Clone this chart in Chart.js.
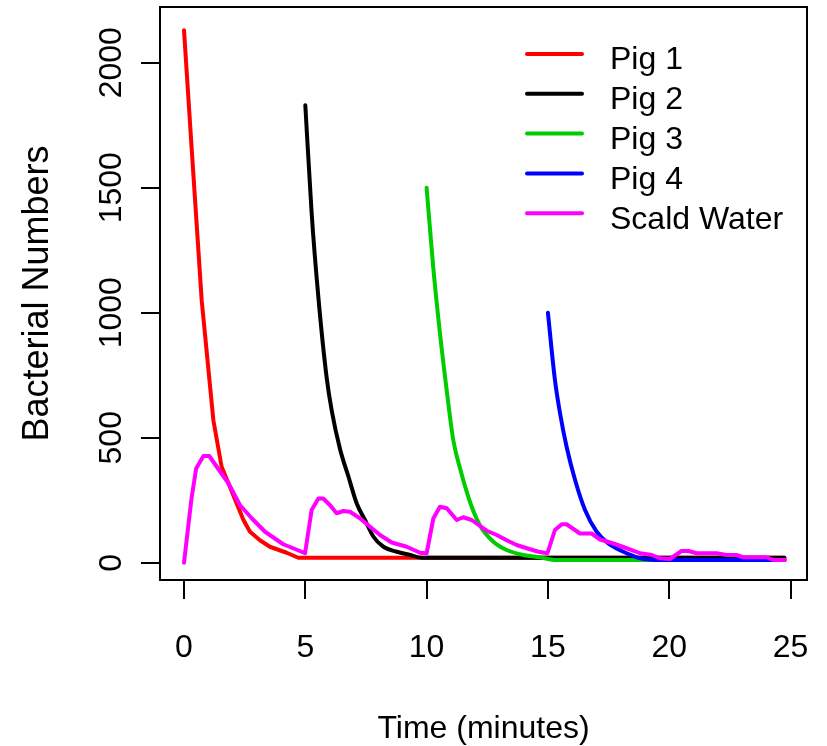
<!DOCTYPE html>
<html>
<head>
<meta charset="utf-8">
<script src="https://cdn.jsdelivr.net/npm/chart.js@4/dist/chart.umd.min.js"></script>
<style>
  html, body { margin: 0; padding: 0; background: #fff; }
  canvas { display: block; }
</style>
</head>
<body>
<canvas id="chart" width="827" height="746"></canvas>
<script>
// values (time in minutes, bacterial numbers)
const pig1Time  = [0, 0.32, 0.73, 1.21, 1.55, 1.83, 2.17, 2.45, 2.72, 3.13, 3.54, 4.23, 4.71, 24.75];
const pig1Count = [2130, 1650, 1048, 570, 384, 318, 237, 171, 124, 90, 64, 40, 20, 20];

const pig2Time  = [5, 5.26, 5.54, 5.88, 6.09, 6.43, 6.78, 7.12, 7.46, 7.81, 8.22, 8.77, 9.32, 9.8, 24.75];
const pig2Count = [1830, 1400, 1060, 740, 608, 455, 344, 237, 171, 104, 64, 44, 31, 20, 20];

const pig3Time  = [10, 10.27, 10.55, 10.87, 11.1, 11.38, 11.79, 12.2, 12.75, 13.3, 13.99, 14.67, 15.36, 24.75];
const pig3Count = [1500, 1185, 918, 657, 490, 377, 243, 149, 84, 51, 31, 22, 11, 11];

const pig4Time  = [15, 15.29, 15.5, 15.77, 16.12, 16.53, 17.01, 17.49, 18.11, 18.8, 19.62, 24.75];
const pig4Count = [1000, 731, 598, 464, 331, 211, 124, 77, 44, 18, 11, 11];

const scaldTime  = [0, 0.3, 0.5, 0.8, 1.04, 1.4, 1.83, 2.31, 2.79, 3.34, 4.09, 4.5, 4.99,
                    5.26, 5.54, 5.74, 6.02, 6.29, 6.57, 6.84, 7.25, 7.67, 8.08, 8.56, 9.18, 9.73, 10.0,
                    10.28, 10.55, 10.83, 11.24, 11.51, 11.86, 12.1, 12.48, 12.89, 13.3, 13.71, 14.13, 14.61, 14.98,
                    15.29, 15.57, 15.77, 16.32, 16.8, 17.15, 17.7, 18.25, 18.8, 19.28, 19.62, 20.03,
                    20.51, 20.79, 21.13, 21.95, 22.36, 22.77, 23.05, 24.02, 24.29, 24.77];
const scaldCount = [0, 251, 377, 427, 427, 377, 318, 230, 178, 124, 74, 58, 38,
                    211, 257, 257, 230, 198, 207, 204, 178, 144, 111, 81, 64, 40, 38,
                    178, 224, 218, 171, 182, 171, 154, 128, 111, 90, 71, 58, 44, 38,
                    131, 154, 154, 117, 117, 93, 77, 58, 38, 31, 18, 15,
                    47, 47, 38, 38, 31, 31, 22, 22, 11, 11];

const seriesNames  = ['Pig 1', 'Pig 2', 'Pig 3', 'Pig 4', 'Scald Water'];
const seriesColors = ['#FF0000', '#000000', '#00CD00', '#0000FF', '#FF00FF'];
const smoothSeries = [false, true, true, true, false];

const xTicks = [0, 5, 10, 15, 20, 25];
const yTicks = [0, 500, 1000, 1500, 2000];

const FONT = '"Liberation Sans", Arial, sans-serif';

function toPoints(xs, ys) {
    return xs.map((x, i) => ({ x: x, y: ys[i] }));
}

const allSeries = [
    toPoints(pig1Time, pig1Count),
    toPoints(pig2Time, pig2Count),
    toPoints(pig3Time, pig3Count),
    toPoints(pig4Time, pig4Count),
    toPoints(scaldTime, scaldCount)
];

// R style box, tick labels, axis titles and legend
const rDecor = {
    id: 'rDecor',
    afterDraw(chart) {
        const ctx = chart.ctx;
        const a = chart.chartArea;
        const xs = chart.scales.x, ys = chart.scales.y;
        ctx.save();
        ctx.strokeStyle = '#000';
        ctx.lineWidth = 2;
        ctx.strokeRect(a.left, a.top, a.right - a.left, a.bottom - a.top);

        ctx.fillStyle = '#000';
        ctx.font = '32px ' + FONT;
        ctx.textAlign = 'center';
        ctx.textBaseline = 'alphabetic';
        xTicks.forEach(v => ctx.fillText(String(v), xs.getPixelForValue(v), 657));
        yTicks.forEach(v => {
            ctx.save();
            ctx.translate(121, ys.getPixelForValue(v));
            ctx.rotate(-Math.PI / 2);
            ctx.fillText(String(v), 0, 0);
            ctx.restore();
        });

        ctx.font = '32px ' + FONT;
        ctx.fillText('Time (minutes)', (a.left + a.right) / 2, 738);
        ctx.font = '36px ' + FONT;
        ctx.save();
        ctx.translate(48, (a.top + a.bottom) / 2);
        ctx.rotate(-Math.PI / 2);
        ctx.fillText('Bacterial Numbers', 0, 0);
        ctx.restore();

        // legend
        ctx.font = '32px ' + FONT;
        ctx.textAlign = 'left';
        ctx.lineCap = 'round';
        ctx.lineWidth = 4;
        chart.data.datasets.forEach((ds, i) => {
            const rowY = 54 + i * 39.8;
            ctx.strokeStyle = ds.borderColor;
            ctx.beginPath();
            ctx.moveTo(527, rowY);
            ctx.lineTo(582, rowY);
            ctx.stroke();
            ctx.fillText(ds.label, 610, rowY + 15.3);
        });
        ctx.restore();
    }
};

new Chart(document.getElementById('chart'), {
    type: 'line',
    data: {
        datasets: allSeries.map((pts, i) => ({
            label: seriesNames[i],
            data: pts,
            borderColor: seriesColors[i],
            backgroundColor: seriesColors[i],
            borderWidth: 4,
            borderCapStyle: 'round',
            borderJoinStyle: 'round',
            pointRadius: 0,
            tension: 0,
            cubicInterpolationMode: smoothSeries[i] ? 'monotone' : 'default',
            fill: false,
            order: seriesNames.length - i
        }))
    },
    options: {
        responsive: false,
        animation: false,
        devicePixelRatio: 1,
        layout: { padding: { top: 7, right: 20, left: 0, bottom: 0 } },
        plugins: {
            legend: { display: false },
            tooltip: { enabled: false }
        },
        scales: {
            x: {
                type: 'linear',
                min: -0.99,
                max: 25.68,
                afterBuildTicks: s => { s.ticks = xTicks.map(v => ({ value: v })); },
                afterFit: s => { s.height = 166; },
                ticks: { display: false },
                grid: { drawOnChartArea: false, drawTicks: true, tickLength: 19, color: '#000', lineWidth: 2 },
                border: { display: true, color: '#000', width: 2 }
            },
            y: {
                type: 'linear',
                min: -69,
                max: 2223,
                afterBuildTicks: s => { s.ticks = yTicks.map(v => ({ value: v })); },
                afterFit: s => { s.width = 160; },
                ticks: { display: false },
                grid: { drawOnChartArea: false, drawTicks: true, tickLength: 19, color: '#000', lineWidth: 2 },
                border: { display: true, color: '#000', width: 2 }
            }
        }
    },
    plugins: [rDecor]
});
</script>
</body>
</html>
